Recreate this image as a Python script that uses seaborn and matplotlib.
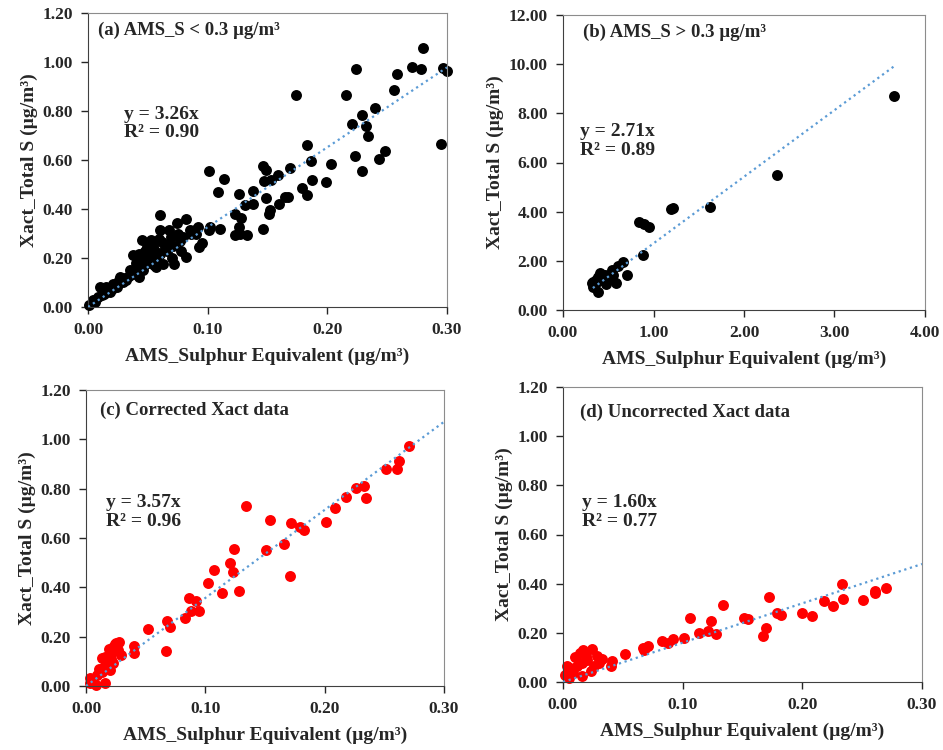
import numpy as np
import pandas as pd
import matplotlib
matplotlib.use('Agg')
import matplotlib.pyplot as plt
from matplotlib.ticker import FormatStrFormatter
import seaborn as sns

# (a) AMS_S < 0.3
a_x = [0.280, 0.271, 0.278, 0.297, 0.300, 0.224, 0.258, 0.256, 0.174, 0.216,
       0.240, 0.229, 0.221, 0.232, 0.234, 0.295, 0.183, 0.248, 0.243, 0.223,
       0.229, 0.203, 0.199, 0.186, 0.187, 0.179, 0.183, 0.169, 0.146, 0.149,
       0.147, 0.153, 0.159, 0.165, 0.167, 0.160, 0.152, 0.151, 0.149, 0.146,
       0.138, 0.138, 0.131, 0.126, 0.123, 0.128, 0.126, 0.123, 0.133, 0.127,
       0.101, 0.114, 0.109, 0.102, 0.110, 0.101, 0.092, 0.089, 0.093, 0.082,
       0.085, 0.082, 0.077, 0.074, 0.072, 0.068, 0.067, 0.060, 0.060, 0.059,
       0.053, 0.060, 0.057, 0.052, 0.049, 0.045, 0.043, 0.038, 0.049, 0.043,
       0.035, 0.032, 0.027, 0.021, 0.015, 0.010, 0.013, 0.004, 0.001, 0.024,
       0.029, 0.038, 0.046, 0.063, 0.055, 0.050, 0.041, 0.034, 0.030, 0.018,
       0.008, 0.006, 0.066, 0.070, 0.078, 0.095, 0.056, 0.047, 0.040, 0.025,
       0.036, 0.044, 0.052, 0.058, 0.064, 0.071, 0.079, 0.086, 0.062, 0.054,
       0.048, 0.039, 0.031, 0.026, 0.020, 0.016, 0.012, 0.069, 0.075, 0.090]
a_y = [1.057, 0.980, 0.970, 0.976, 0.963, 0.970, 0.950, 0.884, 0.864, 0.864,
       0.814, 0.785, 0.746, 0.739, 0.697, 0.667, 0.660, 0.635, 0.603, 0.615,
       0.555, 0.582, 0.510, 0.596, 0.517, 0.486, 0.456, 0.569, 0.576, 0.558,
       0.513, 0.517, 0.537, 0.449, 0.449, 0.419, 0.395, 0.381, 0.446, 0.320,
       0.473, 0.419, 0.415, 0.463, 0.381, 0.365, 0.327, 0.293, 0.293, 0.299,
       0.555, 0.521, 0.469, 0.327, 0.320, 0.313, 0.327, 0.313, 0.245, 0.361,
       0.313, 0.204, 0.269, 0.343, 0.177, 0.313, 0.252, 0.374, 0.313, 0.279,
       0.275, 0.218, 0.163, 0.218, 0.245, 0.275, 0.218, 0.211, 0.190, 0.122,
       0.150, 0.109, 0.122, 0.095, 0.082, 0.082, 0.054, 0.027, 0.007, 0.082,
       0.102, 0.136, 0.150, 0.177, 0.170, 0.180, 0.160, 0.125, 0.110, 0.060,
       0.040, 0.020, 0.230, 0.200, 0.230, 0.260, 0.230, 0.200, 0.180, 0.100,
       0.140, 0.170, 0.190, 0.205, 0.240, 0.250, 0.285, 0.300, 0.265, 0.250,
       0.230, 0.155, 0.120, 0.110, 0.075, 0.068, 0.050, 0.285, 0.300, 0.300]

# (b) AMS_S > 0.3
b_x = [3.66, 2.36, 1.62, 1.19, 1.22, 0.84, 0.89, 0.95, 0.88, 0.71,
       0.66, 0.61, 0.59, 0.54, 0.52, 0.48, 0.46, 0.41, 0.39, 0.39,
       0.33, 0.33, 0.35, 0.32, 0.37, 0.42, 0.55, 0.50]
b_y = [8.70, 5.48, 4.20, 4.11, 4.16, 3.58, 3.50, 3.38, 2.24, 1.41,
       1.94, 1.80, 1.11, 1.63, 1.36, 1.06, 1.42, 1.49, 1.36, 0.75,
       1.15, 0.95, 1.02, 1.08, 1.22, 1.22, 1.42, 1.29]

# (c) corrected Xact
c_x = [0.271, 0.262, 0.261, 0.251, 0.233, 0.226, 0.235, 0.218, 0.209, 0.201,
       0.183, 0.179, 0.172, 0.171, 0.166, 0.154, 0.151, 0.134, 0.124, 0.121,
       0.123, 0.128, 0.114, 0.107, 0.102, 0.092, 0.086, 0.088, 0.095, 0.083,
       0.068, 0.070, 0.067, 0.052, 0.040, 0.040, 0.028, 0.025, 0.023, 0.022,
       0.027, 0.029, 0.016, 0.013, 0.017, 0.023, 0.015, 0.020, 0.013, 0.009,
       0.003, 0.006, 0.016, 0.008, 0.003, 0.019, 0.024, 0.021, 0.011, 0.018]
c_y = [0.973, 0.912, 0.880, 0.878, 0.811, 0.801, 0.761, 0.768, 0.720, 0.664,
       0.632, 0.643, 0.659, 0.446, 0.576, 0.673, 0.551, 0.730, 0.555, 0.497,
       0.464, 0.386, 0.378, 0.470, 0.416, 0.345, 0.355, 0.305, 0.303, 0.274,
       0.265, 0.238, 0.143, 0.230, 0.162, 0.132, 0.180, 0.176, 0.159, 0.139,
       0.146, 0.126, 0.119, 0.112, 0.092, 0.092, 0.078, 0.065, 0.058, 0.045,
       0.031, 0.018, 0.014, 0.004, 0.011, 0.150, 0.170, 0.110, 0.070, 0.100]

# (d) uncorrected Xact
d_x = [0.270, 0.261, 0.261, 0.251, 0.233, 0.234, 0.226, 0.218, 0.208, 0.200,
       0.182, 0.179, 0.172, 0.170, 0.167, 0.155, 0.151, 0.134, 0.124, 0.121,
       0.128, 0.114, 0.106, 0.101, 0.092, 0.088, 0.083, 0.071, 0.068, 0.067,
       0.052, 0.041, 0.040, 0.033, 0.030, 0.024, 0.017, 0.023, 0.020, 0.016,
       0.010, 0.012, 0.006, 0.003, 0.002, 0.005, 0.016, 0.008, 0.014, 0.019,
       0.026, 0.028]
d_y = [0.382, 0.369, 0.362, 0.332, 0.399, 0.338, 0.311, 0.328, 0.267, 0.281,
       0.274, 0.281, 0.344, 0.220, 0.188, 0.256, 0.260, 0.312, 0.247, 0.206,
       0.197, 0.199, 0.260, 0.179, 0.175, 0.159, 0.165, 0.145, 0.132, 0.138,
       0.114, 0.084, 0.066, 0.094, 0.077, 0.134, 0.132, 0.043, 0.091, 0.077,
       0.102, 0.064, 0.057, 0.064, 0.030, 0.016, 0.023, 0.037, 0.118, 0.104,
       0.064, 0.104]

panels = [
    dict(x=a_x, y=a_y, color='black', slope=3.26, r2='0.90', fit=(0.0, 0.30),
         title='(a) AMS_S < 0.3 µg/m³', xlim=(0, 0.30), xstep=0.10, ylim=(0, 1.2), ystep=0.2,
         rect=[88, 13, 447, 307], tpos=(0.028, 0.94), epos=(0.10, 0.625)),
    dict(x=b_x, y=b_y, color='black', slope=2.71, r2='0.89', fit=(0.33, 3.66),
         title='(b) AMS_S > 0.3 µg/m³', xlim=(0, 4.0), xstep=1.0, ylim=(0, 12.0), ystep=2.0,
         rect=[563, 15, 925, 310], tpos=(0.055, 0.94), epos=(0.047, 0.573)),
    dict(x=c_x, y=c_y, color='red', slope=3.57, r2='0.96', fit=(0.0, 0.30),
         title='(c) Corrected Xact data', xlim=(0, 0.30), xstep=0.10, ylim=(0, 1.2), ystep=0.2,
         rect=[86, 390, 444, 686], tpos=(0.04, 0.93), epos=(0.056, 0.588)),
    dict(x=d_x, y=d_y, color='red', slope=1.60, r2='0.77', fit=(0.0, 0.30),
         title='(d) Uncorrected Xact data', xlim=(0, 0.30), xstep=0.10, ylim=(0, 1.2), ystep=0.2,
         rect=[563, 387, 922, 682], tpos=(0.047, 0.915), epos=(0.053, 0.576)),
]

sns.set_style('ticks')
plt.rcParams['font.family'] = ['Liberation Serif', 'DejaVu Serif']
plt.rcParams['font.weight'] = 'bold'
plt.rcParams['axes.labelweight'] = 'bold'

W, H = 943, 750
fig = plt.figure(figsize=(W / 100, H / 100), dpi=100)

for p in panels:
    l, t, r, b = p['rect']
    ax = fig.add_axes([l / W, (H - b) / H, (r - l) / W, (b - t) / H])
    df = pd.DataFrame({'x': p['x'], 'y': p['y']})
    sns.scatterplot(data=df, x='x', y='y', color=p['color'], s=62,
                    edgecolor=p['color'], linewidth=0, ax=ax, zorder=2, clip_on=False)
    fx = np.array(p['fit'])
    sns.lineplot(x=fx, y=p['slope'] * fx, color='#5B9BD5', linestyle=':',
                 linewidth=1.6, ax=ax, zorder=3)
    ax.set_xlim(*p['xlim'])
    ax.set_ylim(*p['ylim'])
    ax.set_xticks(np.arange(p['xlim'][0], p['xlim'][1] + 1e-9, p['xstep']))
    ax.set_yticks(np.arange(p['ylim'][0], p['ylim'][1] + 1e-9, p['ystep']))
    ax.xaxis.set_major_formatter(FormatStrFormatter('%.2f'))
    ax.yaxis.set_major_formatter(FormatStrFormatter('%.2f'))
    ax.tick_params(direction='out', length=5, width=1, labelsize=12.5, pad=6)
    for lab in ax.get_xticklabels() + ax.get_yticklabels():
        lab.set_fontweight('bold')
    for side in ['left', 'bottom']:
        ax.spines[side].set_color('#404040')
    for side in ['top', 'right']:
        ax.spines[side].set_color('#8c8c8c')
    ax.set_xlabel('AMS_Sulphur Equivalent (µg/m³)', fontsize=14, fontweight='bold', labelpad=7)
    ax.set_ylabel('Xact_Total S (µg/m³)', fontsize=14, fontweight='bold', labelpad=3)
    ax.text(p['tpos'][0], p['tpos'][1], p['title'], transform=ax.transAxes,
            fontsize=13.5, fontweight='bold', va='center', ha='left')
    ax.text(p['epos'][0], p['epos'][1], 'y = %.2fx\nR² = %s' % (p['slope'], p['r2']),
            transform=ax.transAxes, fontsize=14, fontweight='bold', va='center',
            ha='left', linespacing=1.1)

fig.savefig('out.png', dpi=100)
